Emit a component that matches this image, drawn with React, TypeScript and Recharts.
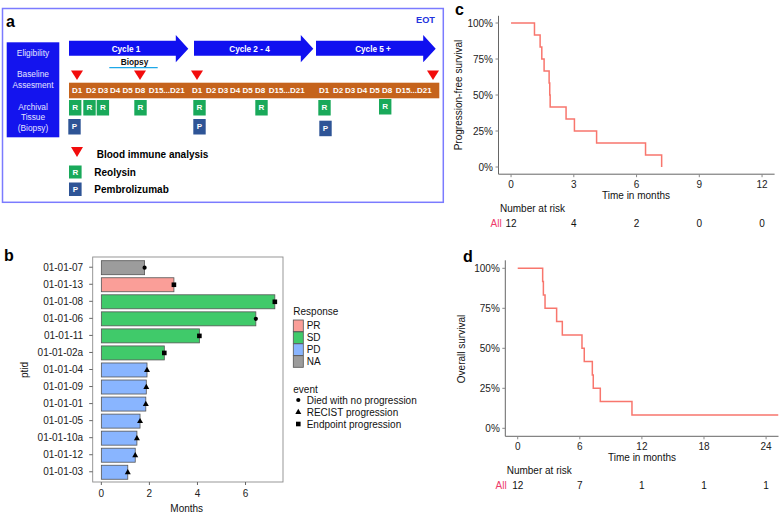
import React from 'react';
import { BarChart, Bar, XAxis, YAxis, LineChart, Line } from 'recharts';

// panel b: swimmer plot
const ptids = ['01-01-07', '01-01-13', '01-01-08', '01-01-06', '01-01-11', '01-01-02a', '01-01-04', '01-01-09', '01-01-01', '01-01-05', '01-01-10a', '01-01-12', '01-01-03'];
const months = [1.8, 3.02, 7.22, 6.43, 4.08, 2.62, 1.9, 1.87, 1.85, 1.61, 1.48, 1.41, 1.1];
const responses = ['NA', 'PR', 'SD', 'SD', 'SD', 'SD', 'PD', 'PD', 'PD', 'PD', 'PD', 'PD', 'PD'];
const events = ['died', 'endpoint', 'endpoint', 'died', 'endpoint', 'endpoint', 'recist', 'recist', 'recist', 'recist', 'recist', 'recist', 'recist'];
const monthTicks = [0, 2, 4, 6];

// panel c: progression-free survival
const pfsTimes = [0, 1.12, 1.39, 1.47, 1.58, 1.82, 1.85, 1.87, 2.63, 3.03, 4.09, 6.43, 7.2];
const pfsSurv = [1, 0.917, 0.833, 0.75, 0.667, 0.583, 0.5, 0.417, 0.333, 0.25, 0.167, 0.083, 0];
const pfsTicks = [0, 3, 6, 9, 12];
const pfsAtRisk = [12, 4, 2, 0, 0];

// panel d: overall survival
const osTimes = [0, 2.41, 2.48, 2.64, 3.76, 4.31, 6.21, 6.43, 7.21, 7.3, 7.98, 11.04, 25.2];
const osSurv = [1, 0.917, 0.833, 0.75, 0.667, 0.583, 0.5, 0.417, 0.333, 0.25, 0.167, 0.083, 0.083];
const osTicks = [0, 6, 12, 18, 24];
const osAtRisk = [12, 7, 1, 1, 1];

const pctTicks = [0, 0.25, 0.5, 0.75, 1];

const FONT = '"Liberation Sans", Arial, sans-serif';
const KM_COLOR = '#F8766D';
const RISK_LABEL = '#EE3A6A';

const responseColors: Record<string, string> = {
  PR: '#FA9E98',
  SD: '#40CA6A',
  PD: '#89B5FF',
  NA: '#9C9C9C',
};

const swimData = ptids.map((ptid, i) => ({
  ptid,
  months: months[i],
  response: responses[i],
  event: events[i],
}));

const pfsData = pfsTimes.map((t, i) => ({ t, s: pfsSurv[i] }));
const osData = osTimes.map((t, i) => ({ t, s: osSurv[i] }));

const Marker = ({ cx, cy, kind }: { cx: number; cy: number; kind: string }) => {
  if (kind === 'died') return <circle cx={cx} cy={cy} r={2.1} fill="#000" />;
  if (kind === 'recist')
    return <path d={`M${cx},${cy - 3.2} L${cx + 3},${cy + 2} L${cx - 3},${cy + 2} Z`} fill="#000" />;
  return <rect x={cx - 2.3} y={cy - 2.3} width={4.6} height={4.6} fill="#000" />;
};

const SwimBar = (props: any) => {
  const { x, y, width, height, payload } = props;
  return (
    <g>
      <rect x={x} y={y} width={width} height={height} fill={responseColors[payload.response]} stroke="#555" strokeWidth={0.8} />
      <Marker cx={x + width} cy={y + height / 2} kind={payload.event} />
    </g>
  );
};

const tickStyle = { fontSize: 10, fill: '#222', fontFamily: FONT };

const KMChart = ({ data, ticks, atRisk, domain, top, left, width, height, margin, yWidth, riskHeight, riskMargin }: any) => (
  <div style={{ position: 'absolute', left, top }}>
    <LineChart width={width} height={height} data={data} margin={margin}>
      <XAxis
        dataKey="t"
        type="number"
        domain={domain}
        ticks={ticks}
        allowDataOverflow
        height={20}
        tick={tickStyle}
        tickSize={3}
        tickMargin={3.5}
        stroke="#666"
        tickLine={{ stroke: '#888' }}
      />
      <XAxis
        xAxisId="risk"
        dataKey="t"
        type="number"
        domain={domain}
        ticks={ticks}
        allowDataOverflow
        height={riskHeight}
        axisLine={false}
        tickLine={false}
        tickSize={0}
        tickMargin={riskMargin}
        tick={{ ...tickStyle, fill: '#111' }}
        tickFormatter={(_v: number, i: number) => String(atRisk[i])}
      />
      <YAxis
        type="number"
        domain={[-0.05, 1.05]}
        ticks={pctTicks}
        width={yWidth}
        tick={tickStyle}
        tickSize={3}
        tickMargin={2.5}
        stroke="#666"
        tickLine={{ stroke: '#888' }}
        tickFormatter={(v: number) => `${Math.round(v * 100)}%`}
      />
      <Line dataKey="s" type="stepAfter" stroke={KM_COLOR} strokeWidth={1.5} dot={false} isAnimationActive={false} />
    </LineChart>
  </div>
);

const cycles = [
  { label: 'Cycle 1', x0: 69, x1: 188.3, tx: 126 },
  { label: 'Cycle 2 - 4', x0: 194, x1: 313.3, tx: 249.5 },
  { label: 'Cycle 5 +', x0: 316, x1: 435.7, tx: 373 },
];
const dayNames = ['D1', 'D2', 'D3', 'D4', 'D5', 'D8', 'D15...D21'];
const dayOffsets = [0, 14, 26, 38, 50.5, 63, 89.7];
const cycleStarts = [77, 197, 324];
const rBoxes = [[69, 100], [83.3, 100], [96.7, 100], [134.3, 100], [193.3, 100], [255.3, 100], [318.3, 100], [379, 99]];
const pBoxes = [[68.3, 119], [193.3, 119], [319.3, 120.7]];
const bloodMarks = [77, 140, 197, 433];

const Tri = ({ cx, y0, y1 }: { cx: number; y0: number; y1: number }) => (
  <path d={`M${cx - 6},${y0} L${cx + 6},${y0} L${cx},${y1} Z`} fill="#F20C0C" />
);

const Box = ({ x, y, letter, fill, w = 12.4, h = 15.5 }: any) => (
  <g>
    <rect x={x} y={y} width={w} height={h} fill={fill} />
    <text x={x + w / 2} y={y + h / 2} textAnchor="middle" dominantBaseline="central" fontSize={8} fontWeight="bold" fill="#fff">
      {letter}
    </text>
  </g>
);

const GREEN = '#19A95A';
const PBLUE = '#2E5496';

const PanelA = () => (
  <g fontFamily={FONT}>
    <rect x={2.5} y={8.5} width={440.8} height={193.8} fill="#fff" stroke="#7B7BFF" strokeWidth={1.5} />
    <text x={6} y={27} fontSize={16} fontWeight="bold">a</text>
    <text x={425.5} y={20} textAnchor="middle" dominantBaseline="central" fontSize={9.2} fontWeight="bold" fill="#2233DD">EOT</text>
    <rect x={6.7} y={42.3} width={52.6} height={95} fill="#1414EE" />
    {[
      ['Eligibility', 52.7],
      ['Baseline', 74],
      ['Assesment', 84.7],
      ['Archival', 106.7],
      ['Tissue', 117.3],
      ['(Biopsy)', 127.7],
    ].map(([t, y]) => (
      <text key={t as string} x={33} y={y as number} textAnchor="middle" dominantBaseline="central" fontSize={8.3} fill="#E4E4FF">
        {t}
      </text>
    ))}
    {cycles.map((c) => (
      <g key={c.label}>
        <path
          d={`M${c.x0},40.7 L${c.x1 - 12.5},40.7 L${c.x1 - 12.5},35 L${c.x1},48.7 L${c.x1 - 12.5},62.3 L${c.x1 - 12.5},55.7 L${c.x0},55.7 Z`}
          fill="#1010F0"
        />
        <text x={c.tx} y={49} textAnchor="middle" dominantBaseline="central" fontSize={8.2} fontWeight="bold" fill="#fff">
          {c.label}
        </text>
      </g>
    ))}
    <text x={134.5} y={61.7} textAnchor="middle" dominantBaseline="central" fontSize={8.3} fontWeight="bold" fill="#111">Biopsy</text>
    <line x1={109.3} x2={157.7} y1={67.7} y2={67.7} stroke="#1EA8E8" strokeWidth={1.3} />
    {bloodMarks.map((cx) => (
      <Tri key={cx} cx={cx} y0={70.5} y1={80} />
    ))}
    <rect x={69} y={82.7} width={370.3} height={15.6} fill="#C5631C" />
    {cycleStarts.map((s) =>
      dayNames.map((d, i) => (
        <text key={`${s}-${d}`} x={s + dayOffsets[i]} y={90.5} textAnchor="middle" dominantBaseline="central" fontSize={8} fontWeight="bold" fill="#fff">
          {d}
        </text>
      ))
    )}
    {rBoxes.map(([x, y]) => (
      <Box key={`r${x}`} x={x} y={y} letter="R" fill={GREEN} />
    ))}
    {pBoxes.map(([x, y]) => (
      <Box key={`p${x}`} x={x} y={y} letter="P" fill={PBLUE} />
    ))}
    <Tri cx={77} y0={147} y1={157} />
    <text x={96.7} y={154.3} dominantBaseline="central" fontSize={10} fontWeight="bold">Blood immune analysis</text>
    <Box x={69} y={165.5} letter="R" fill={GREEN} w={12.6} h={13} />
    <text x={94.3} y={172} dominantBaseline="central" fontSize={10} fontWeight="bold">Reolysin</text>
    <Box x={69} y={182.5} letter="P" fill={PBLUE} w={12.6} h={13.5} />
    <text x={94.3} y={189.3} dominantBaseline="central" fontSize={10} fontWeight="bold">Pembrolizumab</text>
  </g>
);

const Overlay = () => (
  <svg width={780} height={517} style={{ position: 'absolute', left: 0, top: 0 }}>
    <PanelA />
    <g fontFamily={FONT}>
      {/* panel letters */}
      <text x={455} y={15} fontSize={16} fontWeight="bold">c</text>
      <text x={4} y={261} fontSize={16} fontWeight="bold">b</text>
      <text x={463} y={262} fontSize={16} fontWeight="bold">d</text>

      {/* panel b frame, titles and legend */}
      <rect x={92.7} y={257} width={190.3} height={225} fill="none" stroke="#8C8C8C" strokeWidth={0.9} />
      <text x={186.7} y={508.7} textAnchor="middle" dominantBaseline="central" fontSize={10} fill="#111">Months</text>
      <text transform="translate(24,370) rotate(-90)" textAnchor="middle" dominantBaseline="central" fontSize={10} fill="#111">ptid</text>
      <text x={293.3} y={311} dominantBaseline="central" fontSize={10} fill="#111">Response</text>
      {['PR', 'SD', 'PD', 'NA'].map((r, i) => (
        <g key={r}>
          <rect x={293.3} y={320 + i * 11.9} width={10} height={11.6} fill={responseColors[r]} stroke="#555" strokeWidth={0.8} />
          <text x={306.7} y={325.6 + i * 12} dominantBaseline="central" fontSize={10} fill="#111">{r}</text>
        </g>
      ))}
      <text x={293.3} y={389} dominantBaseline="central" fontSize={10} fill="#111">event</text>
      {[
        ['died', 'Died with no progression'],
        ['recist', 'RECIST progression'],
        ['endpoint', 'Endpoint progression'],
      ].map(([k, label], i) => (
        <g key={k}>
          <Marker cx={298.3} cy={400 + i * 12} kind={k} />
          <text x={306.7} y={400 + i * 12} dominantBaseline="central" fontSize={10} fill="#111">{label}</text>
        </g>
      ))}

      {/* panel c texts */}
      <text transform="translate(458.7,95) rotate(-90)" textAnchor="middle" dominantBaseline="central" fontSize={10} fill="#111">Progression-free survival</text>
      <text x={636} y={195.7} textAnchor="middle" dominantBaseline="central" fontSize={10} fill="#111">Time in months</text>
      <text x={500} y={208.3} dominantBaseline="central" fontSize={10} fill="#111">Number at risk</text>
      <text x={501.7} y={223.3} textAnchor="end" dominantBaseline="central" fontSize={10} fill={RISK_LABEL}>All</text>

      {/* panel d texts */}
      <text transform="translate(461.7,349) rotate(-90)" textAnchor="middle" dominantBaseline="central" fontSize={10} fill="#111">Overall survival</text>
      <text x={642} y={457.7} textAnchor="middle" dominantBaseline="central" fontSize={10} fill="#111">Time in months</text>
      <text x={506.7} y={470} dominantBaseline="central" fontSize={10} fill="#111">Number at risk</text>
      <text x={506.7} y={485} textAnchor="end" dominantBaseline="central" fontSize={10} fill={RISK_LABEL}>All</text>
    </g>
  </svg>
);

const App = () => (
  <div style={{ position: 'absolute', left: 0, top: 0, width: 780, height: 517, background: '#fff', fontFamily: FONT, overflow: 'hidden' }}>
    <Overlay />

    <div style={{ position: 'absolute', left: 0, top: 250 }}>
      <BarChart layout="vertical" width={300} height={267} data={swimData} margin={{ top: 7, right: 17, bottom: 0, left: 0 }}>
        <XAxis
          type="number"
          domain={[-0.36, 7.56]}
          ticks={monthTicks}
          allowDataOverflow
          height={35}
          tick={tickStyle}
          tickSize={3}
          tickMargin={4.5}
          axisLine={false}
          tickLine={{ stroke: '#666' }}
        />
        <YAxis
          type="category"
          dataKey="ptid"
          width={92.7}
          padding={{ top: 1.7, bottom: 1.7 }}
          tick={tickStyle}
          tickSize={3.5}
          tickMargin={6}
          axisLine={false}
          tickLine={{ stroke: '#666' }}
          interval={0}
        />
        <Bar dataKey="months" barSize={14} shape={SwimBar} isAnimationActive={false} />
      </BarChart>
    </div>

    <KMChart
      data={pfsData}
      ticks={pfsTicks}
      atRisk={pfsAtRisk}
      domain={[-0.6, 12.6]}
      left={440}
      top={0}
      width={340}
      height={240}
      margin={{ top: 15.8, right: 5.4, bottom: 0, left: 0 }}
      yWidth={58.5}
      riskHeight={45.8}
      riskMargin={25.6}
    />
    <KMChart
      data={osData}
      ticks={osTicks}
      atRisk={osAtRisk}
      domain={[-1.2, 25.2]}
      left={440}
      top={250}
      width={340}
      height={267}
      margin={{ top: 10.3, right: 1.5, bottom: 0, left: 0 }}
      yWidth={65.3}
      riskHeight={60.7}
      riskMargin={25.2}
    />
  </div>
);

export default App;
